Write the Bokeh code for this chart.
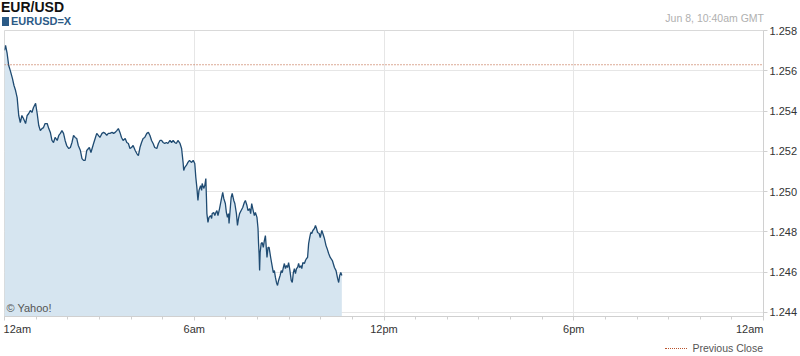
from bokeh.plotting import figure
from bokeh.layouts import column
from bokeh.models import (Range1d, FixedTicker, NumeralTickFormatter, Label, Div)
from bokeh.embed import file_html
from bokeh.resources import INLINE

# ---- data (minutes after midnight GMT, EUR/USD rate) ----
minutes = [0, 2, 5, 8, 11, 15, 18, 21, 24, 27, 30, 33, 36, 40, 43, 46, 49, 52, 55, 59,
           62, 65, 68, 71, 74, 77, 81, 84, 87, 90, 93, 96, 100, 103, 106, 109, 112, 115, 118, 122,
           125, 128, 131, 134, 137, 140, 144, 147, 150, 153, 156, 161, 164, 169, 172, 175, 178, 181, 185, 188,
           191, 194, 197, 200, 204, 207, 210, 213, 216, 219, 222, 225, 229, 232, 235, 238, 241, 244, 248, 251,
           254, 257, 260, 263, 266, 270, 273, 276, 279, 282, 285, 289, 292, 295, 298, 301, 304, 307, 310, 314,
           317, 320, 323, 326, 329, 333, 336, 339, 340, 342, 345, 348, 351, 355, 358, 361, 363, 365, 367, 369,
           372, 374, 375, 378, 380, 382, 383, 384, 386, 388, 391, 393, 394, 397, 399, 401, 403, 405, 408, 411,
           414, 416, 419, 421, 423, 425, 426, 428, 430, 432, 435, 437, 440, 442, 444, 446, 449, 452, 455, 457,
           460, 462, 465, 467, 469, 471, 474, 476, 479, 481, 482, 483, 484, 485, 487, 489, 491, 493, 495, 498,
           500, 502, 505, 507, 510, 512, 514, 516, 518, 520, 523, 525, 527, 529, 531, 533, 535, 537, 539, 541,
           544, 546, 548, 550, 552, 554, 556, 558, 560, 563, 564, 566, 569, 571, 573, 575, 577, 579, 581, 583,
           585, 588, 590, 592, 594, 597, 599, 602, 604, 607, 610, 612, 615, 618, 622, 626, 629, 632, 634, 636,
           638, 640]
rate = [1.25701, 1.25726, 1.25686, 1.25626, 1.25601, 1.25562, 1.25527, 1.25502, 1.25467, 1.25378,
        1.25343, 1.25378, 1.25363, 1.25338, 1.25378, 1.25388, 1.25403, 1.25393, 1.25418, 1.25438,
        1.25388, 1.25328, 1.25303, 1.25313, 1.25318, 1.25338, 1.25338, 1.25313, 1.25294, 1.25254,
        1.25244, 1.25269, 1.25254, 1.25279, 1.25289, 1.25303, 1.25289, 1.25254, 1.25229, 1.25214,
        1.25219, 1.25244, 1.25279, 1.25269, 1.25264, 1.25229, 1.25204, 1.25164, 1.25155, 1.25155,
        1.25204, 1.25219, 1.25194, 1.25239, 1.25264, 1.25289, 1.25279, 1.25269, 1.25289, 1.25294,
        1.25289, 1.25279, 1.25289, 1.25289, 1.25294, 1.25289, 1.25294, 1.25303, 1.25313, 1.25294,
        1.25269, 1.25254, 1.25264, 1.25244, 1.25239, 1.25214, 1.25219, 1.25229, 1.25204, 1.25189,
        1.25179, 1.25219, 1.25244, 1.25264, 1.25269, 1.25289, 1.25294, 1.25279, 1.25254, 1.25239,
        1.25219, 1.25214, 1.25239, 1.25254, 1.25254, 1.25244, 1.25239, 1.25244, 1.25239, 1.25254,
        1.25244, 1.25254, 1.25244, 1.25239, 1.25254, 1.25239, 1.25214, 1.25140, 1.25105, 1.25120,
        1.25130, 1.25145, 1.25155, 1.25145, 1.25155, 1.25140, 1.25070, 1.25020, 1.24956, 1.25006,
        1.25030, 1.25006, 1.25040, 1.25016, 1.25030, 1.25065, 1.24981, 1.24891, 1.24847, 1.24872,
        1.24881, 1.24867, 1.24891, 1.24896, 1.24881, 1.24896, 1.24906, 1.24881, 1.24916, 1.24956,
        1.24996, 1.24966, 1.24941, 1.24896, 1.24872, 1.24891, 1.24842, 1.24906, 1.24971, 1.24991,
        1.24956, 1.24941, 1.24891, 1.24832, 1.24867, 1.24891, 1.24906, 1.24921, 1.24946, 1.24956,
        1.24931, 1.24906, 1.24916, 1.24891, 1.24941, 1.24916, 1.24881, 1.24896, 1.24872, 1.24817,
        1.24742, 1.24693, 1.24608, 1.24698, 1.24742, 1.24747, 1.24723, 1.24757, 1.24782, 1.24673,
        1.24723, 1.24723, 1.24673, 1.24643, 1.24598, 1.24608, 1.24574, 1.24549, 1.24534, 1.24559,
        1.24584, 1.24608, 1.24598, 1.24623, 1.24643, 1.24618, 1.24633, 1.24623, 1.24648, 1.24618,
        1.24559, 1.24549, 1.24598, 1.24618, 1.24593, 1.24618, 1.24623, 1.24643, 1.24623, 1.24633,
        1.24618, 1.24648, 1.24643, 1.24658, 1.24668, 1.24673, 1.24742, 1.24772, 1.24797, 1.24792,
        1.24807, 1.24817, 1.24832, 1.24817, 1.24797, 1.24792, 1.24772, 1.24807, 1.24792, 1.24767,
        1.24732, 1.24718, 1.24693, 1.24673, 1.24658, 1.24623, 1.24608, 1.24569, 1.24549, 1.24584,
        1.24598, 1.24584]

previous_close = 1.2563
x_ticks = [0, 360, 720, 1080, 1440]
x_tick_labels = ["12am", "6am", "12pm", "6pm", "12am"]
x_minor_ticks = list(range(0, 1441, 60))
y_ticks = [1.244, 1.246, 1.248, 1.250, 1.252, 1.254, 1.256, 1.258]
y_start, y_end = 1.2438, 1.258

FONT = "Liberation Sans"
LINE = "#1f4b72"
FILL = "#d6e5f0"
GRID = "#e6e6e6"
PREV_COLOR = "#b9542e"
NB = "\u00A0"
CSS_FONT = "font-family:'Liberation Sans',Arial,sans-serif;"

header = Div(width=800, height=26, margin=0, text=(
    "<div style=\"position:relative;width:800px;height:26px;" + CSS_FONT + "\">"
    "<span style='position:absolute;left:1px;top:0px;font-size:14px;line-height:14px;font-weight:bold;color:#111;'>EUR/USD</span>"
    "<span style='position:absolute;left:2px;top:16px;font-size:11px;line-height:10px;font-weight:bold;color:#2b5b87;white-space:nowrap;'>"
    "<span style='display:inline-block;width:7px;height:9px;background:#2b5b87;margin-right:2px;vertical-align:-1px;'></span>EURUSD=X</span>"
    "<span style='position:absolute;right:36px;top:13px;font-size:10.5px;line-height:11px;color:#b0b0b0;white-space:nowrap;'>Jun 8, 10:40am GMT</span>"
    "</div>"))

p = figure(width=800, height=314, output_backend="svg", toolbar_location=None,
           x_range=Range1d(0, 1440), y_range=Range1d(y_start, y_end),
           y_axis_location="right", min_border_left=4, min_border_top=4,
           min_border_bottom=24, min_border_right=34,
           background_fill_color="white", border_fill_color="white",
           outline_line_color="#d9d9d9", margin=0)

p.varea(x=minutes, y1=y_start, y2=rate, fill_color=FILL)
p.line(x=minutes, y=rate, line_color=LINE, line_width=1.3)
p.line(x=[0, 1440], y=[previous_close, previous_close], line_color=PREV_COLOR,
       line_width=1, line_dash="1 2")

# x axis: first label left-aligned, last right-aligned (padded with no-break spaces)
overrides = {}
for i, (t, lab) in enumerate(zip(x_ticks, x_tick_labels)):
    if i == 0:
        lab = NB * 1 + lab
    elif i == len(x_ticks) - 1:
        lab = lab + NB * 9
    overrides[t] = lab
p.xaxis.ticker = FixedTicker(ticks=x_ticks, minor_ticks=x_minor_ticks)
p.xaxis.major_label_overrides = overrides
p.xaxis.major_label_text_font = FONT
p.xaxis.major_label_text_font_size = "11px"
p.xaxis.major_label_text_color = "#333333"
p.xaxis.major_label_standoff = 2
p.xaxis.axis_line_color = "#d0d0d0"
p.xaxis.major_tick_line_color = "#d0d0d0"
p.xaxis.minor_tick_line_color = "#d0d0d0"
p.xaxis.major_tick_in = 0
p.xaxis.major_tick_out = 4
p.xaxis.minor_tick_in = 0
p.xaxis.minor_tick_out = 3

p.yaxis.ticker = FixedTicker(ticks=y_ticks, minor_ticks=[])
p.yaxis.formatter = NumeralTickFormatter(format="0.000")
p.yaxis.axis_line_color = "#d0d0d0"
p.yaxis.major_tick_line_color = "#d0d0d0"
p.yaxis.major_tick_in = 0
p.yaxis.major_tick_out = 4
p.yaxis.major_label_standoff = 2
p.yaxis.major_label_text_font = FONT
p.yaxis.major_label_text_font_size = "11px"
p.yaxis.major_label_text_color = "#333333"

p.xgrid.grid_line_color = GRID
p.ygrid.grid_line_color = GRID

p.add_layout(Label(x=2, y=3, x_units="screen", y_units="screen", text="\u00A9 Yahoo!",
                   text_baseline="bottom", text_font=FONT, text_font_size="11px",
                   text_color="#555555"))

footer = Div(width=800, height=16, margin=0, text=(
    "<div style=\"position:relative;width:800px;height:16px;" + CSS_FONT + "\">"
    "<span style='position:absolute;right:37px;top:2px;font-size:10.5px;line-height:12px;color:#555;white-space:nowrap;'>"
    "<span style='display:inline-block;width:22px;border-top:1px dotted " + PREV_COLOR + ";vertical-align:3px;margin-right:5px;'></span>"
    "Previous Close</span>"
    "</div>"))

layout = column(header, p, footer, spacing=0)
open("out.html", "w").write(file_html(layout, INLINE))
